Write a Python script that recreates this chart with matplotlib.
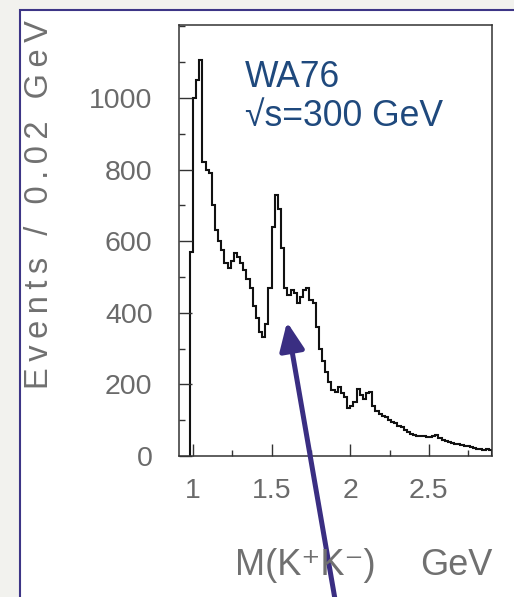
import numpy as np
import matplotlib
matplotlib.use('Agg')
import matplotlib.pyplot as plt
from matplotlib.patches import Rectangle
from matplotlib.ticker import MultipleLocator

# ---- data: K+K- invariant mass histogram, 0.02 GeV bins starting at 0.98 GeV
first_edge = 0.98
bin_width = 0.02
counts = [
    570,
    1000, 1050, 1105, 820, 800,
    790, 700, 630, 600, 575,
    540, 525, 545, 567, 556,
    540, 519, 495, 470, 420,
    385, 345, 333, 370, 470,
    640, 730, 690, 580, 470,
    450, 465, 455, 428, 445,
    465, 470, 436, 428, 360,
    300, 265, 235, 206, 185,
    178, 192, 175, 165, 135,
    140, 150, 186, 170, 158,
    175, 178, 139, 125, 117,
    112, 110, 100, 95, 92,
    85, 81, 72, 66, 62,
    60, 56, 55, 56, 53,
    53, 55, 58, 50, 45,
    42, 40, 36, 34, 33,
    30, 28, 27, 25, 22,
    19, 20, 18, 19, 16,
]
edges = np.round(first_edge + bin_width * np.arange(len(counts) + 1), 4)

x_major = [1.0, 1.5, 2.0, 2.5]
x_major_labels = ['1', '1.5', '2', '2.5']
y_major = [0, 200, 400, 600, 800, 1000]
y_major_labels = ['0', '200', '400', '600', '800', '1000']

W, H = 514, 597
fig = plt.figure(figsize=(W / 100, H / 100), dpi=100, facecolor='#f2f2ee')

# white slide panel with purple border
fig.patches.append(Rectangle((20 / W, -0.1), 1.2, 1 - 10 / H + 0.1,
                             transform=fig.transFigure, facecolor='white',
                             edgecolor='#3d3586', lw=1.5, zorder=-10))

ax = fig.add_axes([179 / W, 1 - 456 / H, (492 - 179) / W, (456 - 25) / H])
ax.set_zorder(1)
ax.set_facecolor('white')
ax.stairs(counts, edges, baseline=0, color='#111111', lw=1.5)

ax.set_xlim(0.911, 2.901)
ax.set_ylim(0, 1204)

tick_font = dict(family=['Liberation Sans', 'DejaVu Sans'], size=20.5)
ax.set_xticks(x_major)
ax.set_xticklabels(x_major_labels, fontdict=tick_font, color='#6a6a6a')
ax.set_yticks(y_major)
ax.set_yticklabels(y_major_labels, fontdict=tick_font, color='#6a6a6a')
ax.xaxis.set_minor_locator(MultipleLocator(0.25))
ax.yaxis.set_minor_locator(MultipleLocator(100))
ax.tick_params(which='both', direction='in', color='#333333', width=1.0,
               top=False, right=False)
ax.tick_params(which='major', length=9)
ax.tick_params(which='minor', length=4.3)
ax.tick_params(axis='x', which='major', pad=15.5)
ax.tick_params(axis='y', which='major', pad=19)
for s in ax.spines.values():
    s.set_color('#333333')
    s.set_linewidth(1.1)

# axis labels
ylab = '\u2009'.join('Events / 0.02 GeV')
fig.text(40 / W, 1 - 205 / H, ylab, rotation=90, ha='center', va='center',
         color='#707070', fontsize=23.5,
         family=['Liberation Sans', 'DejaVu Sans'])
lab_font = ['Liberation Sans', 'DejaVu Sans']
fig.text(235 / W, 1 - 575 / H, 'M(K\u207aK\u207b)', ha='left', va='baseline',
         color='#707070', fontsize=26, family=lab_font)
fig.text(492 / W, 1 - 575 / H, 'GeV', ha='right', va='baseline',
         color='#707070', fontsize=26, family=lab_font)

# annotation text
txt_font = ['Liberation Sans', 'DejaVu Sans']
fig.text(245 / W, 1 - 87 / H, 'WA76', ha='left', va='baseline',
         color='#1f497d', fontsize=25.6, family=txt_font)
fig.text(245 / W, 1 - 126 / H, '\u221as=300 GeV', ha='left', va='baseline',
         color='#1f497d', fontsize=25.6, family=txt_font)

# arrow
ax.annotate('', xy=(287, H - 322), xycoords='figure pixels',
            xytext=(336, -8), textcoords='figure pixels',
            arrowprops=dict(arrowstyle='-|>,head_length=1.7,head_width=0.75',
                            mutation_scale=10, lw=3.6, color='#3a2e82',
                            shrinkA=0, shrinkB=0),
            annotation_clip=False)

fig.savefig('out.png', dpi=100, facecolor=fig.get_facecolor())
